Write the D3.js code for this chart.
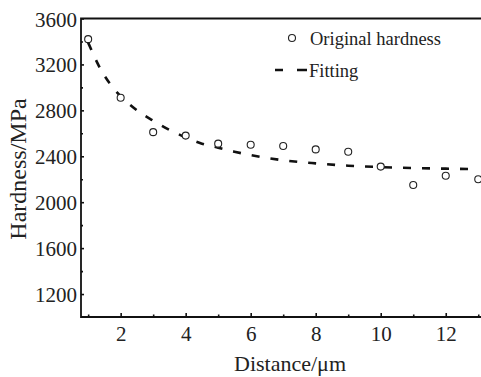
<!DOCTYPE html>
<html>
<head>
<meta charset="utf-8">
<script src="https://cdn.jsdelivr.net/npm/d3@7"></script>
<style>
  html, body { margin: 0; padding: 0; background: #fff; }
  svg { display: block; font-family: "Liberation Serif", "Times New Roman", serif; }
</style>
</head>
<body>
<div id="app"></div>
<script>
// measured hardness vs distance
const distance = [1, 2, 3, 4, 5, 6, 7, 8, 9, 10, 11, 12, 13];
const hardness = [3420, 2910, 2610, 2580, 2510, 2500, 2490, 2460, 2440, 2310, 2150, 2230, 2200];

// fitted curve
const fitX = [1, 1.4, 1.8, 2.2, 2.6, 3, 3.5, 4, 4.5, 5, 5.5, 6, 7, 8, 9, 10, 11, 12, 13];
const fitY = [3390, 3150, 2985, 2870, 2780, 2710, 2630, 2565, 2510, 2475, 2440, 2410, 2365, 2338, 2318, 2306, 2297, 2292, 2287];

const xTicks = [2, 4, 6, 8, 10, 12];
const yTicks = [1200, 1600, 2000, 2400, 2800, 3200, 3600];

const width = 481;
const height = 377;
const mLeft = 81, mTop = 18.5, mBottom = 317;

const svg = d3
  .select("#app")
  .append("svg")
  .attr("width", width)
  .attr("height", height)
  .attr("viewBox", [0, 0, width, height]);

const x = d3.scaleLinear().domain([0.78, 13.3]).range([mLeft, 488]);
const y = d3.scaleLinear().domain([1000, 3600]).range([mBottom, mTop]);

// minor ticks
const xMinor = d3.range(1, 14, 2);
const yMinor = d3.range(1400, 3600, 400);

const xAxis = svg
  .append("g")
  .attr("transform", `translate(0,${mBottom})`)
  .call(d3.axisBottom(x).tickValues(xTicks).tickSize(-4).tickPadding(9).tickFormat(d3.format("d")));
xAxis.append("g").call(d3.axisBottom(x).tickValues(xMinor).tickSize(-2.5).tickFormat(""));

const yAxis = svg
  .append("g")
  .attr("transform", `translate(${mLeft},0)`)
  .call(d3.axisLeft(y).tickValues(yTicks).tickSize(-3).tickPadding(4).tickFormat(d3.format("d")));
yAxis.append("g").call(d3.axisLeft(y).tickValues(yMinor).tickSize(-2).tickFormat(""));

svg.selectAll(".domain").remove();
xAxis.attr("font-family", "Liberation Serif").attr("font-size", 21);
yAxis.attr("font-family", "Liberation Serif").attr("font-size", 21);
svg.selectAll(".tick line").attr("stroke", "#111").attr("stroke-width", 1.6);
svg.selectAll(".tick text").attr("fill", "#222");
yAxis.selectAll(".tick text").attr("dy", "0.36em");

// frame: left, bottom, top (right edge runs off the page)
svg
  .append("path")
  .attr("d", `M${width},${mTop}H${mLeft}V${mBottom}H${width}`)
  .attr("fill", "none")
  .attr("stroke", "#111")
  .attr("stroke-width", 1.8);

// fitting curve
const line = d3
  .line()
  .x((d) => x(d[0]))
  .y((d) => y(d[1]))
  .curve(d3.curveMonotoneX);

svg
  .append("path")
  .datum(fitX.map((d, i) => [d, fitY[i]]))
  .attr("d", line)
  .attr("fill", "none")
  .attr("stroke", "#111")
  .attr("stroke-width", 2.6)
  .attr("stroke-dasharray", "8,11");

// data points
svg
  .append("g")
  .selectAll("circle")
  .data(distance)
  .join("circle")
  .attr("cx", (d) => x(d))
  .attr("cy", (d, i) => y(hardness[i]))
  .attr("r", 3.5)
  .attr("fill", "#fff")
  .attr("stroke", "#222")
  .attr("stroke-width", 1.1);

// legend
const legend = svg.append("g").style("font-size", "18.5px").attr("fill", "#222");
legend
  .append("circle")
  .attr("cx", 292)
  .attr("cy", 38)
  .attr("r", 3.5)
  .attr("fill", "#fff")
  .attr("stroke", "#222")
  .attr("stroke-width", 1.1);
legend.append("text").attr("x", 310).attr("y", 44.5).text("Original hardness");
legend
  .append("path")
  .attr("d", "M275,70H283M297,70H307")
  .attr("stroke", "#111")
  .attr("stroke-width", 2.6);
legend.append("text").attr("x", 309).attr("y", 76.5).text("Fitting");

// axis titles
svg
  .append("text")
  .attr("x", 290)
  .attr("y", 371)
  .attr("text-anchor", "middle")
  .attr("fill", "#222")
  .style("font-size", "22px")
  .text("Distance/μm");

svg
  .append("text")
  .attr("transform", "translate(26,169) rotate(-90)")
  .attr("text-anchor", "middle")
  .attr("fill", "#222")
  .style("font-size", "24px")
  .text("Hardness/MPa");
</script>
</body>
</html>
